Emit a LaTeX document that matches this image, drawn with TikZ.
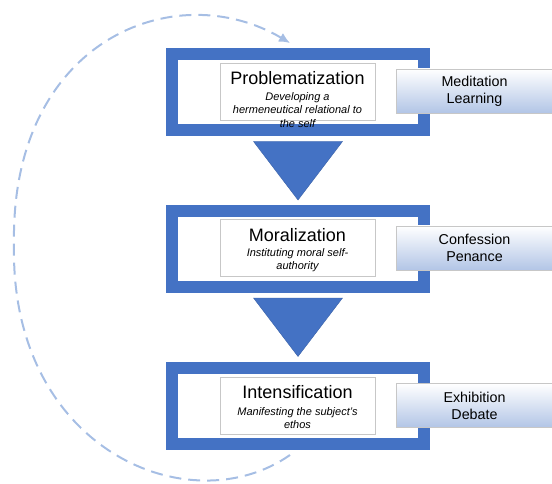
\documentclass[tikz,border=0pt]{standalone}
\usepackage{fontspec}
\setmainfont{Liberation Sans}
\usetikzlibrary{arrows.meta,calc}
\definecolor{frameblue}{HTML}{4472C4}
\definecolor{loopblue}{RGB}{166,190,228}
\definecolor{sideblue}{RGB}{178,197,230}
\tikzset{
  frame/.style={draw=frameblue,line width=12pt,fill=white,minimum width=252pt,minimum height=76pt,inner sep=0pt},
  textbox/.style={draw=black!22,line width=0.6pt,fill=white,minimum width=155pt,minimum height=57pt,inner sep=0pt},
  title/.style={font=\fontsize{18}{20}\selectfont,inner sep=0pt},
  subtitle/.style={font=\fontsize{11}{13.5}\selectfont\itshape,align=center,inner sep=0pt},
  side/.style={draw=black!22,line width=0.6pt,top color=white,bottom color=sideblue,minimum width=157pt,minimum height=44pt,align=center,font=\fontsize{14.3}{17}\selectfont,inner sep=0pt},
  tri/.style={fill=frameblue,draw=frameblue!85!black,line width=0.4pt},
  loop/.style={draw=loopblue,line width=2pt,dash pattern=on 12pt off 7pt,-{Latex[length=11pt,width=10pt]}}
}
\begin{document}
\begin{tikzpicture}[x=1pt,y=-1pt]
  \useasboundingbox (0,0) rectangle (552,484);
  % return loop
  \coordinate (loopin) at (290,455);
  \coordinate (loopleft) at (14,245);
  \coordinate (loopout) at (290,43);
  \draw[loop] (loopin) .. controls (190,525) and (10,450) .. (loopleft)
    .. controls (10,40) and (175,-25) .. (loopout);
  % stages
  \node[frame] (prob) at (298,92.5) {};
  \node[frame] (mor) at (298,249) {};
  \node[frame] (int) at (298,405.5) {};
  \node[textbox] (probbox) at (297.5,91.5) {};
  \node[textbox] (morbox) at (297.5,248) {};
  \node[textbox] (intbox) at (297.5,405.5) {};
  \node[title] (probtitle) at (297.5,78) {Problematization};
  \node[subtitle] (probsub) at (297.5,110) {Developing a\\hermeneutical relational to\\the self};
  \node[title] (mortitle) at (297.5,235) {Moralization};
  \node[subtitle] (morsub) at (297.5,260) {Instituting moral self-\\authority};
  \node[title] (inttitle) at (297.5,392) {Intensification};
  \node[subtitle] (intsub) at (297.5,418) {Manifesting the subject's\\ethos};
  % practices
  \node[side] (probside) at (474.5,91) {Meditation\\Learning};
  \node[side] (morside) at (474.5,248) {Confession\\Penance};
  \node[side] (intside) at (474.5,405.5) {Exhibition\\Debate};
  % arrows between stages
  \begin{scope}
    \filldraw[tri] ($(prob.south)+(-44.5,5)$) -- ($(prob.south)+(44.5,5)$) -- ($(mor.north)+(0,-5)$) -- cycle;
    \filldraw[tri] ($(mor.south)+(-44.5,5)$) -- ($(mor.south)+(44.5,5)$) -- ($(int.north)+(0,-5)$) -- cycle;
  \end{scope}
\end{tikzpicture}
\end{document}
